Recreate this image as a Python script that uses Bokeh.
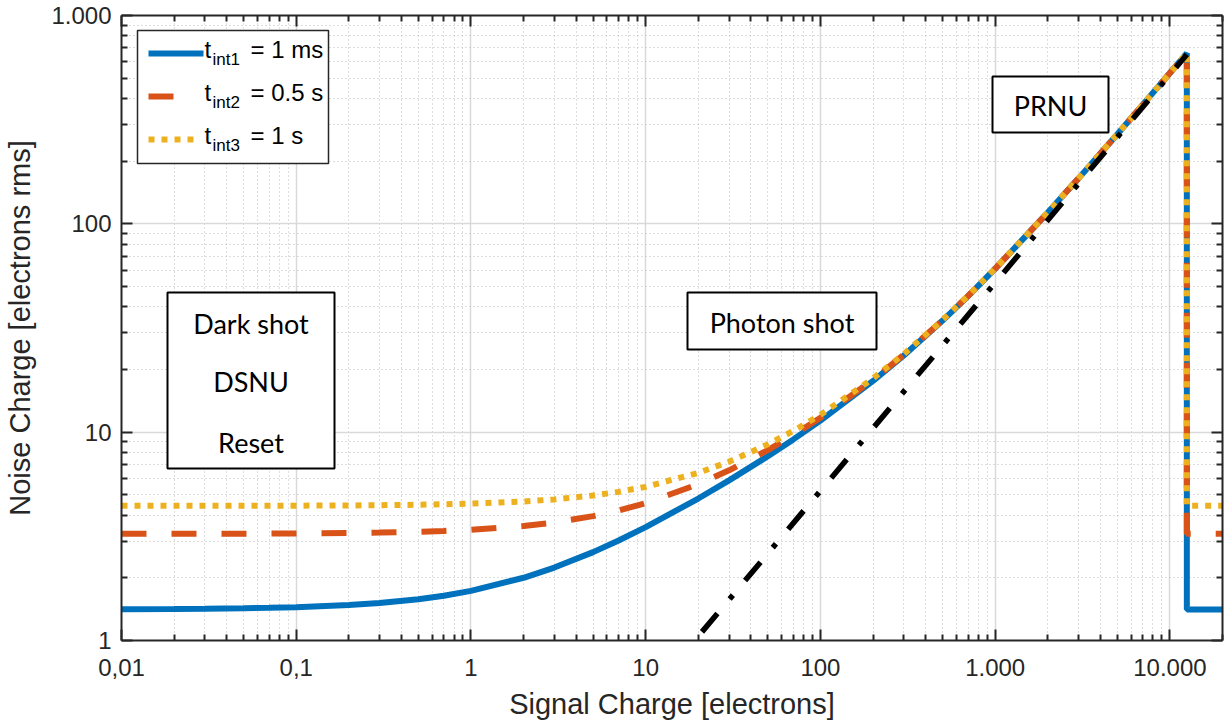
from bokeh.plotting import figure
from bokeh.models import (Range1d, FixedTicker, LogAxis, BoxAnnotation, Label, Arrow,
                          CustomJSTickFormatter)
from bokeh.embed import file_html
from bokeh.resources import INLINE

# ---------------- data ----------------
signal = [0.01, 0.02, 0.03, 0.05, 0.07, 0.1, 0.2, 0.3, 0.5, 0.7,
          1, 2, 3, 5, 7, 10, 20, 30, 50, 70,
          100, 200, 300, 500, 700, 1000, 2000, 3000, 5000, 7000,
          10000, 12500, 12500, 20000]

noise_1ms = [1.414, 1.418, 1.421, 1.428, 1.435, 1.446, 1.480, 1.513, 1.578, 1.640,
             1.730, 2.000, 2.239, 2.656, 3.020, 3.501, 4.803, 5.867, 7.665, 9.233,
             11.36, 17.61, 23.35, 34.32, 45.02, 60.88, 113.2, 165.3, 269.4, 373.5,
             529.5, 659.6, 1.41, 1.41]

noise_05s = [3.251, 3.253, 3.254, 3.257, 3.260, 3.265, 3.280, 3.295, 3.326, 3.356,
             3.400, 3.546, 3.686, 3.953, 4.206, 4.564, 5.625, 6.557, 8.205, 9.686,
             11.73, 17.85, 23.54, 34.45, 45.12, 60.95, 113.3, 165.4, 269.5, 373.5,
             529.5, 659.6, 3.25, 3.25]

noise_1s = [4.428, 4.429, 4.431, 4.433, 4.435, 4.438, 4.450, 4.461, 4.483, 4.506,
            4.539, 4.649, 4.757, 4.967, 5.170, 5.465, 6.378, 7.213, 8.738, 10.14,
            12.11, 18.11, 23.73, 34.58, 45.22, 61.02, 113.3, 165.4, 269.5, 373.5,
            529.5, 659.6, 4.43, 4.43]

prnu_signal = [21.0, 12500]
prnu_noise = [1.1, 650.0]

x_tick_values = [0.01, 0.1, 1, 10, 100, 1000, 10000]
x_tick_labels = ["0,01", "0,1", "1", "10", "100", "1.000", "10.000"]
y_tick_values = [1, 10, 100, 1000]
y_tick_labels = ["1", "10", "100", "1.000"]

legend_main = ["t", "t", "t"]
legend_sub = ["int1", "int2", "int3"]
legend_rest = ["= 1 ms", "= 0.5 s", "= 1 s"]

x_label = "Signal Charge [electrons]"
y_label = "Noise Charge [electrons rms]"

# ---------------- styling ----------------
BLUE, RED, YELLOW, BLACK = "#0072BD", "#D95319", "#EDB120", "#000000"
AX = "#262626"
W, H = 1225, 722
BL, BR, BT, BB = 121, 3, 15, 81
FW = W - BL - BR
FH = H - BT - BB
TEXT_DY = 9  # vertical correction for label baselines

x_minor = [m * 10.0 ** e for e in range(-2, 5) for m in range(2, 10)]
y_minor = [m * 10.0 ** e for e in range(0, 3) for m in range(2, 10)]

p = figure(width=W, height=H, x_axis_type="log", y_axis_type="log",
           x_range=Range1d(0.01, 20000), y_range=Range1d(1, 1000),
           output_backend="svg", toolbar_location=None,
           min_border_left=BL, min_border_right=BR, min_border_top=BT, min_border_bottom=BB)
p.outline_line_color = None
p.background_fill_color = "white"
p.border_fill_color = "white"

xt = FixedTicker(ticks=x_tick_values, minor_ticks=x_minor)
yt = FixedTicker(ticks=y_tick_values, minor_ticks=y_minor)


def style_axis(ax, ticker, show_labels):
    ax.ticker = ticker
    ax.axis_line_color = AX
    ax.axis_line_width = 2
    ax.major_tick_in = 11
    ax.major_tick_out = 0
    ax.minor_tick_in = 6
    ax.minor_tick_out = 0
    ax.major_tick_line_color = AX
    ax.major_tick_line_width = 2
    ax.minor_tick_line_color = AX
    ax.minor_tick_line_width = 2
    if show_labels:
        ax.major_label_text_font = "Liberation Sans"
        ax.major_label_text_font_size = "24px"
        ax.major_label_text_color = AX
        ax.axis_label_text_font = "Liberation Sans"
        ax.axis_label_text_font_size = "29px"
        ax.axis_label_text_font_style = "normal"
        ax.axis_label_text_color = AX
    else:
        ax.formatter = CustomJSTickFormatter(code="return ''")
        ax.major_label_text_font_size = "0px"
        ax.major_label_standoff = 0


xa = p.xaxis[0]
ya = p.yaxis[0]
style_axis(xa, xt, True)
style_axis(ya, yt, True)
xa.major_label_overrides = dict(zip(x_tick_values, x_tick_labels))
ya.major_label_overrides = dict(zip(y_tick_values, y_tick_labels))
xa.axis_label = x_label
ya.axis_label = y_label
xa.major_label_standoff = 18
xa.axis_label_standoff = 9
ya.major_label_standoff = 10
ya.axis_label_standoff = 12

top_ax = LogAxis()
right_ax = LogAxis()
style_axis(top_ax, xt, False)
style_axis(right_ax, yt, False)
p.add_layout(top_ax, "above")
p.add_layout(right_ax, "right")

for g, t in ((p.xgrid[0], xt), (p.ygrid[0], yt)):
    g.ticker = t
    g.grid_line_color = "#d9d9d9"
    g.grid_line_width = 1.5
    g.minor_grid_line_color = "#bdbdbd"
    g.minor_grid_line_width = 1
    g.minor_grid_line_dash = "1 3"

# ---------------- curves ----------------
p.line(signal, noise_1ms, line_color=BLUE, line_width=6)
p.line(signal, noise_05s, line_color=RED, line_width=6, line_dash="25 25")
p.line(signal, noise_1s, line_color=YELLOW, line_width=6, line_dash="6 7")
p.line(prnu_signal, prnu_noise, line_color=BLACK, line_width=5.5, line_dash="24 19 5 19")


# ---------------- annotations (positions in reference page pixels) ----------------
def sx(px):
    return (px - 121) * FW / 1101.0


def sy(py):
    return (641 - py) * FH / 626.0


def box(l, t, r, b, lw=2, color="black"):
    p.add_layout(BoxAnnotation(left=sx(l), right=sx(r), top=sy(t), bottom=sy(b),
                               left_units="screen", right_units="screen",
                               top_units="screen", bottom_units="screen",
                               fill_color="white", fill_alpha=1.0,
                               line_color=color, line_alpha=1.0, line_width=lw))


def text(px, py, s, font="Lato", size="27px", align="center"):
    p.add_layout(Label(x=sx(px), y=sy(py - TEXT_DY), x_units="screen", y_units="screen",
                       text=s, text_font=font, text_font_size=size,
                       text_color="black", text_align=align,
                       text_baseline="alphabetic"))


# legend
box(137, 31, 328, 164, lw=1.5, color=AX)
rows = [54, 97, 140]
samples = [(148, 203, BLUE, "solid"), (148, 198, RED, "25 25"), (148, 193, YELLOW, "6 7")]
for i, (x0, x1, c, d) in enumerate(samples):
    p.add_layout(Arrow(end=None, x_start=sx(x0), x_end=sx(x1), y_start=sy(rows[i]), y_end=sy(rows[i]),
                       start_units="screen", end_units="screen",
                       line_color=c, line_width=6, line_dash=d))
    base = rows[i] + 5
    text(204, base, legend_main[i], font="Liberation Sans", size="24px", align="left")
    text(212, base + 10, legend_sub[i], font="Liberation Sans", size="17px", align="left")
    text(250, base, legend_rest[i], font="Liberation Sans", size="24px", align="left")

# region boxes
box(167, 293, 334, 469)
text(250.5, 333, "Dark shot")
text(250.5, 391, "DSNU")
text(250.5, 452, "Reset")

box(687, 293, 876, 350)
text(781.5, 332, "Photon shot")

box(992, 77, 1108, 133)
text(1050, 115, "PRNU")

open("out.html", "w").write(file_html(p, INLINE))
